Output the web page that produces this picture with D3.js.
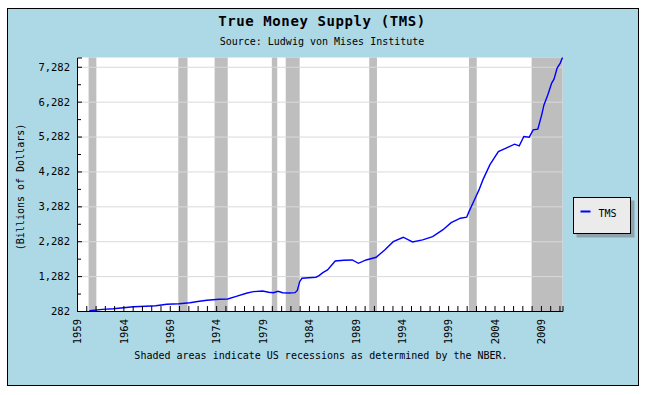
<!DOCTYPE html>
<html>
<head>
<meta charset="utf-8">
<script src="https://cdn.jsdelivr.net/npm/d3@7"></script>
<style>
  body { margin: 0; background: #fff; }
  svg { display: block; }
  text { font-family: "DejaVu Sans Mono", "Liberation Mono", monospace; fill: #000; }
</style>
</head>
<body>
<div id="chart"></div>
<script>
// TMS series (billions of dollars)
const dates = [
  '1960-05', '1961-10', '1962-12', '1964-01', '1965-02', '1966-06', '1967-07', '1968-09',
  '1970-01', '1971-03', '1972-01', '1973-01', '1974-05', '1975-04', '1976-03', '1977-04',
  '1978-01', '1979-01', '1979-09', '1980-03', '1980-09', '1981-03', '1981-11', '1982-07',
  '1982-10', '1983-01', '1983-04', '1984-01', '1984-10', '1985-02', '1985-07', '1986-01',
  '1986-11', '1987-10', '1988-09', '1989-05', '1990-03', '1991-04', '1992-03', '1993-02',
  '1994-03', '1995-03', '1996-04', '1997-05', '1998-06', '1999-05', '2000-05', '2001-01',
  '2001-04', '2001-12', '2002-05', '2002-10', '2003-07', '2004-06', '2005-04', '2006-03',
  '2006-09', '2007-03', '2007-10', '2008-03', '2008-09', '2009-02', '2009-05', '2009-10',
  '2010-03', '2010-06', '2010-10', '2011-02', '2011-05'
];
const tms = [
  290, 330, 348, 377, 405, 420, 434, 474,
  490, 520, 555, 590, 618, 626, 703, 790,
  836, 855, 820, 807, 847, 807, 798, 807,
  870, 1122, 1220, 1237, 1250, 1295, 1380, 1460,
  1716, 1736, 1745, 1650, 1745, 1822, 2032, 2270,
  2396, 2261, 2319, 2413, 2605, 2815, 2941, 2970,
  3130, 3515, 3753, 4040, 4470, 4852, 4950, 5064,
  5015, 5282, 5265, 5475, 5495, 5905, 6190, 6478,
  6814, 6928, 7244, 7387, 7548
];

// NBER recessions (last one drawn to the end of the series)
const recessionStart = ['1960-04', '1969-12', '1973-11', '1980-01', '1981-07', '1990-07', '2001-04', '2008-01'];
const recessionEnd   = ['1961-02', '1970-12', '1975-04', '1980-08', '1983-01', '1991-05', '2002-02', '2011-05'];

const yTicks = [282, 1282, 2282, 3282, 4282, 5282, 6282, 7282];
const yMinorTicks = [782, 1782, 2782, 3782, 4782, 5782, 6782];
const xLabelYears = [1959, 1964, 1969, 1974, 1979, 1984, 1989, 1994, 1999, 2004, 2009];

const parse = d3.timeParse('%Y-%m');
const data = dates.map((d, i) => ({ date: parse(d), value: tms[i] }));

const W = 647, H = 395;
const plot = { left: 77, right: 562.5, top: 57.5, bottom: 311 };

const svg = d3.select('#chart').append('svg')
  .attr('width', W)
  .attr('height', H);

// Outer panel
svg.append('rect')
  .attr('x', 7.5).attr('y', 8.5)
  .attr('width', 631).attr('height', 377)
  .attr('fill', '#add8e6')
  .attr('stroke', '#000');

// Titles
svg.append('text')
  .attr('x', 322).attr('y', 22)
  .attr('text-anchor', 'middle')
  .attr('dominant-baseline', 'middle')
  .style('font-size', '14px')
  .style('font-weight', 'bold')
  .style('letter-spacing', '0.6px')
  .text('True Money Supply (TMS)');

svg.append('text')
  .attr('x', 322).attr('y', 42)
  .attr('text-anchor', 'middle')
  .attr('dominant-baseline', 'middle')
  .style('font-size', '10px')
  .text('Source: Ludwig von Mises Institute');

svg.append('text')
  .attr('x', 321).attr('y', 356)
  .attr('text-anchor', 'middle')
  .attr('dominant-baseline', 'middle')
  .style('font-size', '10px')
  .text('Shaded areas indicate US recessions as determined by the NBER.');

svg.append('text')
  .attr('transform', 'translate(21,187) rotate(-90)')
  .attr('text-anchor', 'middle')
  .attr('dominant-baseline', 'middle')
  .style('font-size', '10px')
  .text('(Billions of Dollars)');

// Scales
const x = d3.scaleTime()
  .domain([parse('1959-01'), data[data.length - 1].date])
  .range([plot.left, plot.right]);

const y = d3.scaleLinear()
  .domain([282, d3.max(tms)])
  .range([plot.bottom, plot.top]);

// Plot background
svg.append('rect')
  .attr('x', plot.left).attr('y', plot.top)
  .attr('width', plot.right - plot.left)
  .attr('height', plot.bottom - plot.top)
  .attr('fill', '#fff');

// Recession bands
svg.append('g').selectAll('rect')
  .data(recessionStart.map((s, i) => [parse(s), parse(recessionEnd[i])]))
  .join('rect')
  .attr('x', d => x(d[0]))
  .attr('y', plot.top)
  .attr('width', d => x(d[1]) - x(d[0]))
  .attr('height', plot.bottom - plot.top)
  .attr('fill', '#bebebe');

// Horizontal grid
const grid = svg.append('g')
  .attr('transform', `translate(${plot.left},0)`)
  .call(d3.axisLeft(y).tickValues(yTicks.slice(1)).tickSize(-(plot.right - plot.left)).tickFormat(''));
grid.select('.domain').remove();
grid.selectAll('line').attr('stroke', '#d9d9d9');

// Series line
svg.append('path')
  .datum(data)
  .attr('fill', 'none')
  .attr('stroke', '#0000ff')
  .attr('stroke-width', 1.4)
  .attr('d', d3.line().x(d => x(d.date)).y(d => y(d.value)));

// Y axis (ticks point inward)
const yAxis = svg.append('g')
  .attr('transform', `translate(${plot.left},0)`)
  .call(d3.axisLeft(y).tickValues(yTicks).tickSize(-5).tickPadding(7).tickFormat(d3.format(',')));
yAxis.selectAll('text').style('font-size', '10.5px').style('font-family', '"DejaVu Sans Mono", monospace');

svg.append('g')
  .attr('transform', `translate(${plot.left},0)`)
  .call(d3.axisLeft(y).tickValues(yMinorTicks).tickSize(-4).tickFormat(''))
  .select('.domain').remove();

// X axis: yearly inward ticks
svg.append('g')
  .attr('transform', `translate(0,${plot.bottom})`)
  .call(d3.axisBottom(x).ticks(d3.timeYear.every(1)).tickSize(-5).tickFormat(''));

// X labels, rotated
const xLab = svg.append('g')
  .attr('transform', `translate(0,${plot.bottom})`)
  .call(d3.axisBottom(x).tickValues(xLabelYears.map(yr => new Date(yr, 0, 1))).tickSize(0).tickPadding(0).tickFormat(d3.timeFormat('%Y')));
xLab.select('.domain').remove();
xLab.selectAll('text')
  .attr('y', 0).attr('dy', '0.35em')
  .attr('x', -8)
  .attr('transform', 'rotate(-90)')
  .style('text-anchor', 'end')
  .style('font-size', '10.5px')
  .style('font-family', '"DejaVu Sans Mono", monospace');

// Legend
const legend = svg.append('g').attr('transform', 'translate(573.5,197.5)');
legend.append('rect')
  .attr('x', 3).attr('y', 3)
  .attr('width', 58).attr('height', 37)
  .attr('fill', '#8fa3ad');
legend.append('rect')
  .attr('width', 57).attr('height', 36)
  .attr('fill', '#ebebeb')
  .attr('stroke', '#000');
legend.append('line')
  .attr('x1', 7).attr('x2', 17)
  .attr('y1', 14).attr('y2', 14)
  .attr('stroke', '#0000ff')
  .attr('stroke-width', 2);
legend.append('text')
  .attr('x', 25).attr('y', 16)
  .attr('dominant-baseline', 'middle')
  .style('font-size', '10px')
  .text('TMS');
</script>
</body>
</html>
